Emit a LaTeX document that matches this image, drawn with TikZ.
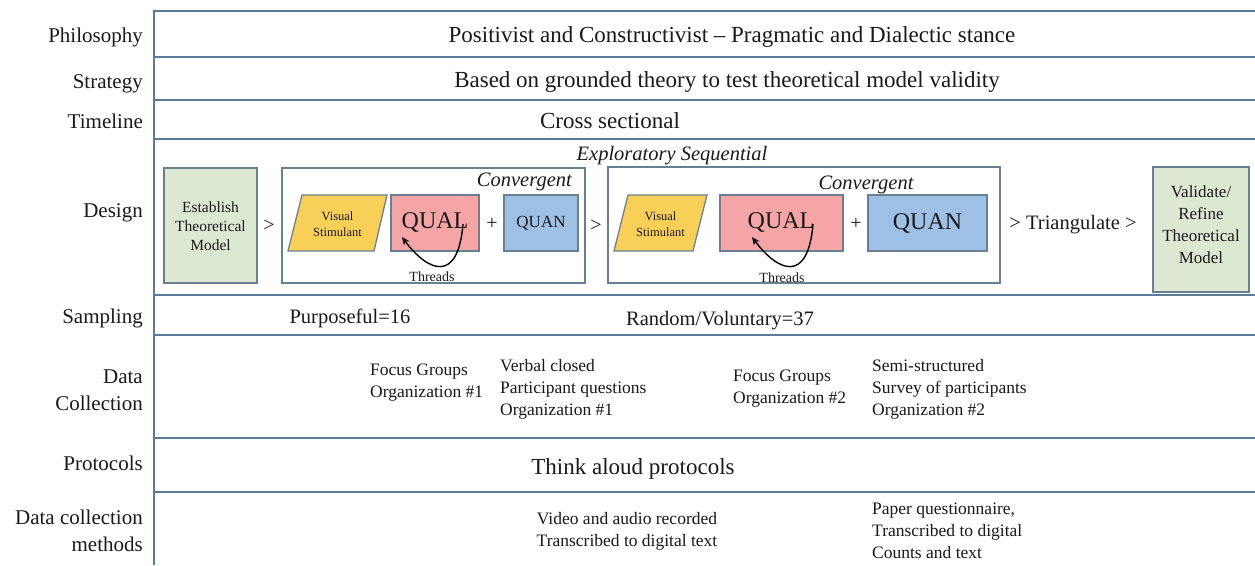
\documentclass[tikz,border=0pt]{standalone}
\usepackage{fontspec}
\setmainfont{Liberation Serif}
\usetikzlibrary{arrows.meta,calc}
\definecolor{rowline}{HTML}{5B7B9A}
\definecolor{boxline}{HTML}{6B7F93}
\definecolor{greenfill}{HTML}{DDE8D3}
\definecolor{yellowfill}{HTML}{F9D057}
\definecolor{pinkfill}{HTML}{F6A5A6}
\definecolor{bluefill}{HTML}{9DC0E4}
\definecolor{ink}{HTML}{1A1A1A}
\tikzset{
  rowl/.style={draw=rowline, line width=1.8pt},
  bx/.style={draw=boxline, line width=1.3pt},
  lab/.style={text=ink, inner sep=0pt, align=right, font=\fontsize{21}{27}\selectfont},
  big/.style={text=ink, inner sep=0pt, font=\fontsize{23}{28}\selectfont},
  mid/.style={text=ink, inner sep=0pt, font=\fontsize{20.5}{25}\selectfont},
  small/.style={text=ink, inner sep=0pt, align=left, font=\fontsize{17.5}{22}\selectfont},
  boxtext/.style={text=ink, inner sep=0pt, align=center, font=\fontsize{15.5}{19}\selectfont},
  valtext/.style={text=ink, inner sep=0pt, align=center, font=\fontsize{17}{22}\selectfont},
  vstext/.style={text=ink, inner sep=0pt, align=center, font=\fontsize{12.5}{16}\selectfont},
  conv/.style={text=ink, inner sep=0pt, font=\fontsize{20.5}{25}\selectfont\itshape},
  thr/.style={text=ink, inner sep=0pt, font=\fontsize{14}{17}\selectfont},
  gt/.style={text=ink, inner sep=0pt, font=\fontsize{20}{24}\selectfont},
  arr/.style={draw=black, line width=1.4pt, -{Stealth[length=8pt,width=7pt]}}
}
\begin{document}
\begin{tikzpicture}[x=1pt,y=-1pt]
\useasboundingbox (0,0) rectangle (1255,565);
\fill[white] (0,0) rectangle (1255,565);

% grid
\foreach \yy in {11,57,100,139,295,335,438,492}
  \draw[rowl] (154,\yy) -- (1255,\yy);
\draw[rowl] (154,10) -- (154,565);

% row labels
\node[lab, anchor=base east] (lphil) at (143,42) {Philosophy};
\node[lab, anchor=base east] (lstrat) at (143,88) {Strategy};
\node[lab, anchor=base east] (ltime) at (143,128) {Timeline};
\node[lab, anchor=base east] (ldes) at (143,217) {Design};
\node[lab, anchor=base east] (lsamp) at (143,323) {Sampling};
\node[lab, anchor=east] (ldc) at (143,390) {Data\\Collection};
\node[lab, anchor=base east] (lprot) at (143,470) {Protocols};
\node[lab, anchor=east] (ldcm) at (143,531) {Data collection\\methods};

% row contents
\node[big, anchor=base] (phil) at (732,42) {Positivist and Constructivist -- Pragmatic and Dialectic stance};
\node[big, anchor=base] (strat) at (727,87) {Based on grounded theory to test theoretical model validity};
\node[big, anchor=base] (time) at (610,128) {Cross sectional};
\node[mid, anchor=base] (purp) at (350,323) {Purposeful=16};
\node[mid, anchor=base] (rand) at (720,325) {Random/Voluntary=37};
\node[big, anchor=base] (think) at (633,474) {Think aloud protocols};

% data collection
\node[small, anchor=west] (fg1) at (370,383) {Focus Groups\\Organization \#1};
\node[small, anchor=west] (vc) at (500,389) {Verbal closed\\Participant questions\\Organization \#1};
\node[small, anchor=west] (fg2) at (733,389) {Focus Groups\\Organization \#2};
\node[small, anchor=west] (ss) at (872,389) {Semi-structured\\Survey of participants\\Organization \#2};

% data collection methods
\node[small, align=center] (vid) at (627,531) {Video and audio recorded\\Transcribed to digital text};
\node[small, anchor=west] (pap) at (872,531) {Paper questionnaire,\\Transcribed to digital\\Counts and text};

% design row
\node[conv, anchor=base] (expl) at (672,160) {Exploratory Sequential};

\draw[bx, fill=greenfill] (164,168) rectangle (257,283);
\node[boxtext] (est) at (210.5,226) {Establish\\Theoretical\\Model};
\node[gt] (g1) at (269,226) {>};

\draw[bx] (282,168) rectangle (585,283);
\node[conv, anchor=base east] (conv1) at (572,186) {Convergent};
\draw[bx, fill=yellowfill] (288,251) -- (302,195) -- (387,195) -- (374,251) -- cycle;
\node[vstext] (vs1) at (337.5,224) {Visual\\Stimulant};
\draw[bx, fill=pinkfill] (391,195) rectangle (479,251);
\node[text=ink, inner sep=0pt, font=\fontsize{24}{28}\selectfont] (qual1) at (435,222) {QUAL};
\node[gt] (p1) at (492,224) {+};
\draw[bx, fill=bluefill] (504,195) rectangle (578,251);
\node[text=ink, inner sep=0pt, font=\fontsize{17}{20}\selectfont] (quan1) at (541,223) {QUAN};
\node[thr] (thr1) at (432,277) {Threads};
\coordinate (t1s) at (463,224);
\coordinate (t1e) at (402,237);
\draw[arr] (t1s) .. controls (458,284) and (428,272) .. (t1e);

\node[gt] (g2) at (596,226) {>};

\draw[bx] (608,167) rectangle (1000,283);
\node[conv, anchor=base] (conv2) at (866,189) {Convergent};
\draw[bx, fill=yellowfill] (614,251) -- (628,195) -- (707,195) -- (693,251) -- cycle;
\node[vstext] (vs2) at (660.5,224) {Visual\\Stimulant};
\draw[bx, fill=pinkfill] (720,195) rectangle (843,251);
\node[text=ink, inner sep=0pt, font=\fontsize{24}{28}\selectfont] (qual2) at (781,222) {QUAL};
\node[gt] (p2) at (856,224) {+};
\draw[bx, fill=bluefill] (868,195) rectangle (987,251);
\node[text=ink, inner sep=0pt, font=\fontsize{24}{28}\selectfont] (quan2) at (927.5,223) {QUAN};
\node[thr] (thr2) at (782,278) {Threads};
\coordinate (t2s) at (813,224);
\coordinate (t2e) at (752,237);
\draw[arr] (t2s) .. controls (808,284) and (778,272) .. (t2e);

\node[text=ink, inner sep=0pt, font=\fontsize{20.5}{24}\selectfont] (tri) at (1073,225) {> Triangulate >};

\draw[bx, fill=greenfill] (1153,167) rectangle (1249,292);
\node[valtext] (val) at (1201,225) {Validate/\\Refine\\Theoretical\\Model};
\end{tikzpicture}
\end{document}
